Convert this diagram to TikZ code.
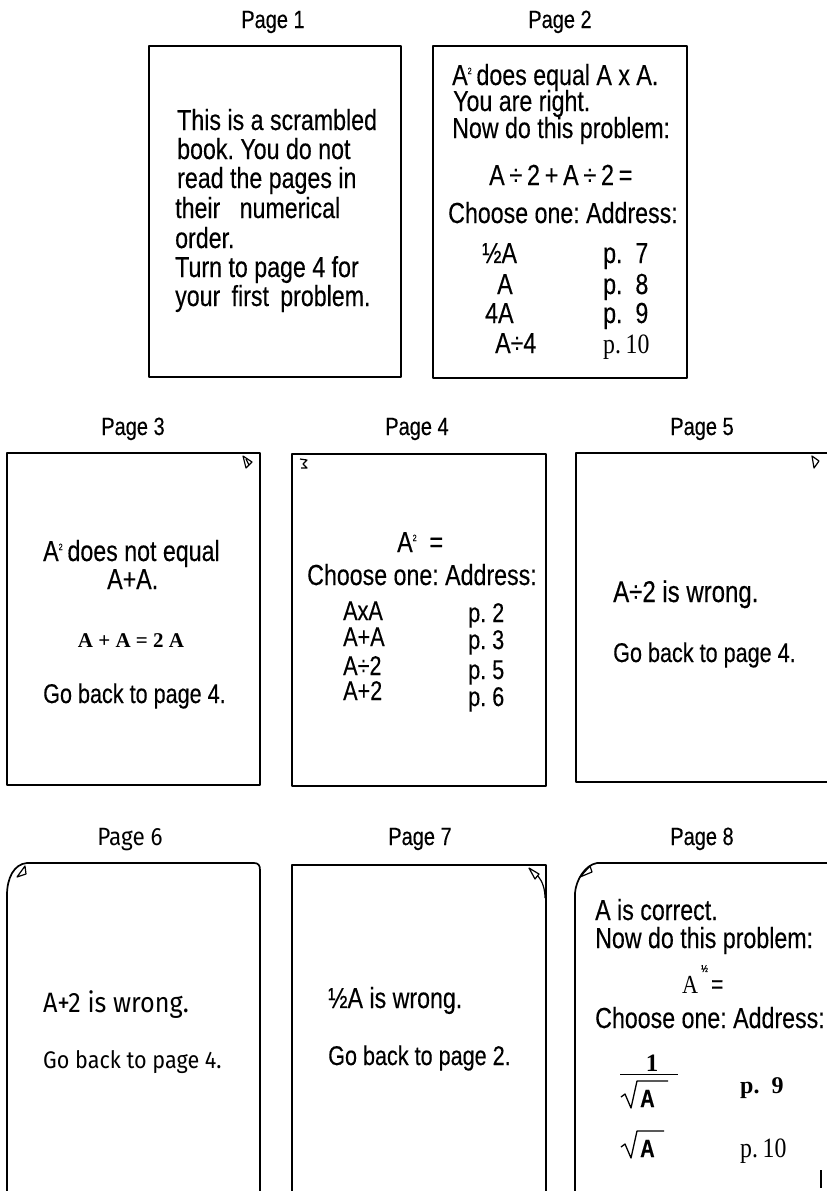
\documentclass[tikz,border=0pt]{standalone}
\usepackage{fontspec}
\setmainfont{Liberation Sans}
\newfontfamily\ns[FakeStretch=0.8,FakeBold=0.3]{Liberation Sans}
\newfontfamily\srf[FakeStretch=0.85]{Liberation Serif}
\newfontfamily\srb{Liberation Serif}
\newfontfamily\fira[FakeStretch=0.9]{Fira Sans}
\newcommand\fs[1]{\fontsize{#1}{#1}\selectfont}
\newcommand\sq{\raisebox{11pt}{\fs{9}2}}
\frenchspacing
\begin{document}
\begin{tikzpicture}[x=1pt,y=-1pt,
  box/.style={line width=1.7pt, line join=round},
  curl/.style={line width=1.2pt, line join=round},
  rad/.style={line width=1.3pt, line join=round},
  lbl/.style={anchor=base, inner sep=0, font=\ns\fs{25}},
  tl/.style={anchor=base west, inner sep=0, font=\ns\fs{29}},
  gb/.style={anchor=base west, inner sep=0, font=\ns\fs{27}},
  pc/.style={anchor=base west, inner sep=0, font=\ns\fs{29}},
  rw/.style={anchor=base west, inner sep=0, font=\ns\fs{27}},
]
\useasboundingbox (0,0) rectangle (827,1191);

% ---------------- Page 1
\node[lbl] (l1) at (273,28) {Page 1};
\draw[box] (149,46) rectangle (401,377);
\node[tl] (p1a) at (177,130) {This is a scrambled};
\node[tl] (p1b) at (177,159) {book. You do not};
\node[tl] (p1c) at (177,188) {read the pages in};
\node[tl] (p1d) at (175,218) {their\ \ \ numerical};
\node[tl] (p1e) at (175,248) {order.};
\node[tl] (p1f) at (175,277) {Turn to page 4 for};
\node[tl] (p1g) at (175,306) {your\, first\, problem.};

% ---------------- Page 2
\node[lbl] (l2) at (560,28) {Page 2};
\draw[box] (433,46) rectangle (687,378);
\node[tl] (p2a) at (452,85) {A\sq\,does equal A x A.};
\node[tl] (p2b) at (453,111) {You are right.};
\node[tl] (p2c) at (452,138) {Now do this problem:};
\node[tl] (p2d) at (489,185) {A\,÷\,2\,+\,A\,÷\,2\,=};
\node[tl] (p2e) at (448,223) {Choose one: Address:};
\node[pc] (p2r1) at (482,263) {½A};
\node[pc] (p2r2) at (497,294) {A};
\node[pc] (p2r3) at (485,323) {4A};
\node[pc] (p2r4) at (495,353) {A÷4};
\node[pc] (p2q1) at (603,263) {p.\ \ 7};
\node[pc] (p2q2) at (603,294) {p.\ \ 8};
\node[pc] (p2q3) at (603,323) {p.\ \ 9};
\node[anchor=base west, inner sep=0, font=\srf\fs{28}] (p2q4) at (603,353) {p.\,10};

% ---------------- Page 3
\node[lbl] (l3) at (133,435) {Page 3};
\draw[box] (7,453) rectangle (260,785);
\draw[curl] (243,456) -- (252,462) -- (246,468) -- cycle;
\draw[curl] (246,459) -- (249,465);
\node[tl] (p3a) at (43,561) {A\sq\,does not equal};
\node[tl] (p3b) at (107,589) {A+A.};
\node[anchor=base, inner sep=0, font=\srb\bfseries\fs{21}] (p3c) at (131,647) {A + A = 2 A};
\node[gb] (p3d) at (43,703) {Go back to page 4.};

% ---------------- Page 4
\node[lbl] (l4) at (417,435) {Page 4};
\draw[box] (292,454) rectangle (546,786);
\draw[curl] (300,459) -- (307,460) -- (303,464) -- (307,468) -- (301,468);
\node[tl] (p4a) at (397,552) {A\sq\ \ =};
\node[tl] (p4b) at (307,585) {Choose one: Address:};
\node[rw] (p4r1) at (343,620) {AxA};
\node[rw] (p4r2) at (343,646) {A+A};
\node[rw] (p4r3) at (343,675) {A÷2};
\node[rw] (p4r4) at (343,700) {A+2};
\node[rw] (p4q1) at (468,622) {p. 2};
\node[rw] (p4q2) at (468,649) {p. 3};
\node[rw] (p4q3) at (468,679) {p. 5};
\node[rw] (p4q4) at (468,706) {p. 6};

% ---------------- Page 5
\node[lbl] (l5) at (702,435) {Page 5};
\draw[box] (827,453) -- (576,453) -- (576,782) -- (827,782);
\draw[curl] (812,456) -- (819,461) -- (814,468) -- cycle;
\node[anchor=base west, inner sep=0, font=\ns\fs{30}] (p5a) at (613,602) {A÷2 is wrong.};
\node[gb] (p5b) at (613,662) {Go back to page 4.};

% ---------------- Page 6
\node[anchor=base, inner sep=0, font=\fira\fs{25}] (l6) at (130,845) {Page 6};
\draw[box] (7,1191) -- (7,895) .. controls (7,878) and (14,864) .. (27,863)
  -- (254,863) .. controls (258,863) and (260,865) .. (260,870) -- (260,1191);
\draw[curl] (17,877) -- (25,866) -- (26,874) -- cycle;
\node[anchor=base west, inner sep=0, font=\fira\fs{28}] (p6a) at (43,1012) {A+2 is wrong.};
\node[anchor=base west, inner sep=0, font=\fira\fs{24}] (p6b) at (43,1068) {Go back to page 4.};

% ---------------- Page 7
\node[lbl] (l7) at (420,845) {Page 7};
\draw[box] (292,1191) -- (292,865) -- (546,865) -- (546,1191);
\draw[curl] (529,868) -- (535,879) -- (539,874) -- cycle;
\draw[curl] (538,876) .. controls (543,882) and (545,890) .. (545,898);
\node[tl] (p7a) at (328,1008) {½A is wrong.};
\node[gb] (p7b) at (328,1065) {Go back to page 2.};

% ---------------- Page 8
\node[lbl] (l8) at (702,845) {Page 8};
\draw[box] (575,1191) -- (575,893) .. controls (576,880) and (585,865) .. (597,863) -- (827,863);
\draw[curl] (580,877) -- (590,866) -- (592,872) -- cycle;
\node[tl] (p8a) at (595,920) {A is correct.};
\node[tl] (p8b) at (595,948) {Now do this problem:};
\node[anchor=base west, inner sep=0, font=\srf\fs{26}] (p8c) at (682,993) {A};
\node[anchor=base west, inner sep=0, font=\ns\fs{10}] (p8h) at (701,972) {½};
\node[anchor=base west, inner sep=0, font=\ns\fs{26}] (p8e) at (711,993) {=};
\node[tl] (p8d) at (595,1028) {Choose one: Address:};
\node[anchor=base, inner sep=0, font=\srb\bfseries\fs{25}] (p8one) at (652,1071) {1};
\draw[line width=1pt] (620,1074) -- (678,1074);
\draw[rad] (621,1097) -- (625,1094) -- (631,1108) -- (637,1081) -- (668,1081);
\node[anchor=base west, inner sep=0, font=\ns\bfseries\fs{25}] (p8r1) at (640,1107) {A};
\draw[rad] (621,1147) -- (625,1144) -- (631,1158) -- (637,1131) -- (664,1131);
\node[anchor=base west, inner sep=0, font=\ns\bfseries\fs{25}] (p8r2) at (640,1157) {A};
\node[anchor=base west, inner sep=0, font=\srb\bfseries\fs{24}] (p8q1) at (740,1093) {p.\ \ 9};
\node[anchor=base west, inner sep=0, font=\srf\fs{28}] (p8q2) at (740,1157) {p.\,10};
\draw[line width=1.2pt] (821,1170) -- (821,1188);
\end{tikzpicture}
\end{document}
